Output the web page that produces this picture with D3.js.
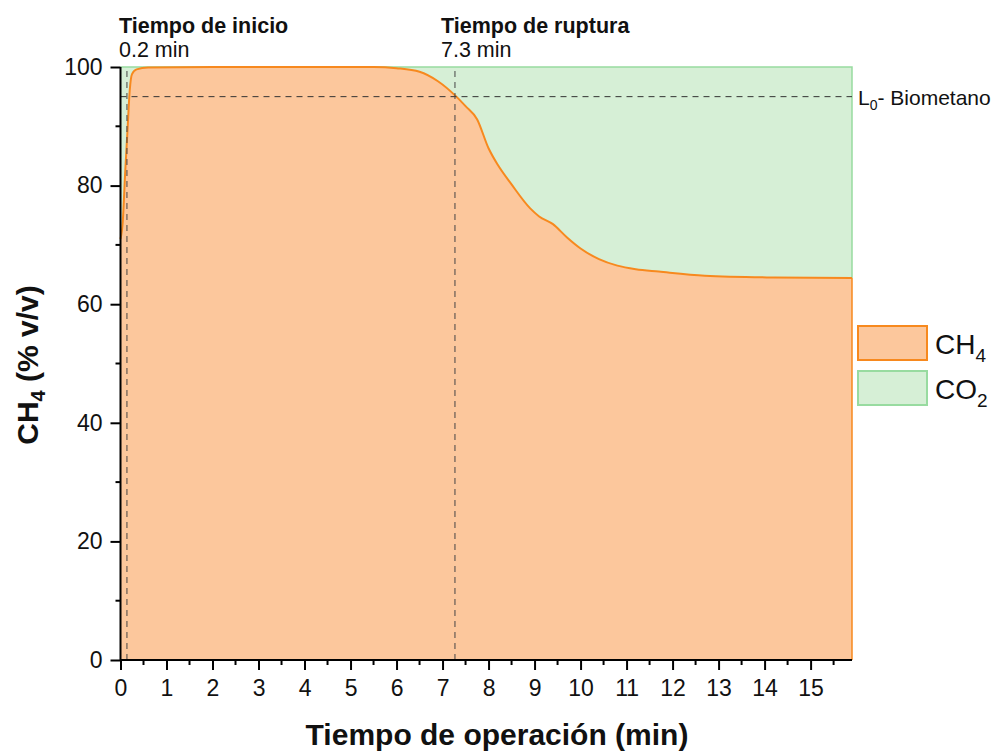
<!DOCTYPE html>
<html>
<head>
<meta charset="utf-8">
<script src="https://cdn.jsdelivr.net/npm/d3@7/dist/d3.min.js"></script>
<style>
  html, body { margin: 0; padding: 0; background: #ffffff; }
  svg { display: block; font-family: "Liberation Sans", Arial, sans-serif; }
</style>
</head>
<body>
<svg id="chart" width="1003" height="754"></svg>
<script>
// ---- Data ----
const timeMin = [0, 0.05, 0.1, 0.15, 0.2, 0.25, 0.35, 0.6, 2, 4, 5.5, 6, 6.5, 6.9, 7.3, 7.5, 7.75, 8.0, 8.2, 8.5, 8.9, 9.1, 9.4, 9.7, 10.0, 10.4, 10.8, 11.2, 11.7, 12.7, 14.2, 15.9];
const ch4Pct  = [71, 74, 82, 89, 96, 98.8, 99.6, 99.9, 100, 100, 100, 99.8, 99.2, 97.6, 95, 93.4, 91.2, 86.3, 83.5, 80.2, 76.2, 74.8, 73.5, 71.3, 69.4, 67.6, 66.5, 65.9, 65.5, 64.8, 64.5, 64.4];
const xTicks = [0,1,2,3,4,5,6,7,8,9,10,11,12,13,14,15];
const yTicks = [0,20,40,60,80,100];
const limitL0 = 95;
const markerPos = [0.14, 7.27];
const markerTitles = ["Tiempo de inicio", "Tiempo de ruptura"];
const markerValues = ["0.2 min", "7.3 min"];
const legendLabels = [["CH", "4"], ["CO", "2"]];

const data = timeMin.map((t, i) => ({t, v: ch4Pct[i]}));

// ---- Layout ----
const svg = d3.select("#chart");
const x = d3.scaleLinear().domain([0, 15.9]).range([120.5, 852]);
const y = d3.scaleLinear().domain([0, 100]).range([660, 67]);

const orangeFill = "#fcc79c", orangeLine = "#f7891e";
const greenFill = "#d6efd6", greenLine = "#98dba0";
const txt = "#111";

// CO2 area (between curve and 100)
const greenArea = d3.area().x(d => x(d.t)).y0(y(100)).y1(d => y(d.v)).curve(d3.curveMonotoneX);
svg.append("path").datum(data).attr("d", greenArea).attr("fill", greenFill);
svg.append("path")
  .attr("d", `M${x(0)},${y(100)}H${x(15.9)}V${y(ch4Pct[ch4Pct.length-1])}`)
  .attr("fill", "none").attr("stroke", greenLine).attr("stroke-width", 1.5);

// CH4 area
const orangeArea = d3.area().x(d => x(d.t)).y0(y(0)).y1(d => y(d.v)).curve(d3.curveMonotoneX);
svg.append("path").datum(data).attr("d", orangeArea).attr("fill", orangeFill);
const line = d3.line().x(d => x(d.t)).y(d => y(d.v)).curve(d3.curveMonotoneX);
svg.append("path").datum(data).attr("d", line).attr("fill", "none")
  .attr("stroke", orangeLine).attr("stroke-width", 2);
svg.append("line")
  .attr("x1", x(15.9)).attr("x2", x(15.9))
  .attr("y1", y(ch4Pct[ch4Pct.length-1])).attr("y2", y(0))
  .attr("stroke", orangeLine).attr("stroke-width", 1.5);

// dashed lines
svg.append("line")
  .attr("x1", x(0)).attr("x2", x(15.9)).attr("y1", y(limitL0)).attr("y2", y(limitL0))
  .attr("stroke", "#333").attr("stroke-width", 1).attr("stroke-dasharray", "6,5");
markerPos.forEach(p => {
  svg.append("line")
    .attr("x1", x(p)).attr("x2", x(p)).attr("y1", y(0)).attr("y2", y(100))
    .attr("stroke", "#444").attr("stroke-width", 1).attr("stroke-dasharray", "6,5");
});

// ---- Axes ----
const minorX = d3.range(0, 16, 0.5).filter(v => v % 1 !== 0);
const minorY = d3.range(10, 100, 20);

const gx = svg.append("g").attr("transform", `translate(0,${y(0)})`);
gx.append("line").attr("x1", x(0)).attr("x2", x(15.9)).attr("stroke", "#000").attr("stroke-width", 2);
gx.call(d3.axisBottom(x).tickValues(xTicks).tickSize(10).tickPadding(10).tickFormat(d3.format("d")))
  .call(g => g.select(".domain").remove())
  .call(g => g.selectAll("line").attr("stroke-width", 2))
  .call(g => g.selectAll("text").attr("font-size", 23).attr("fill", txt)
    .attr("font-family", "'Liberation Sans', Arial, sans-serif"));
gx.selectAll(".minor").data(minorX).enter().append("line")
  .attr("x1", d => x(d)).attr("x2", d => x(d)).attr("y1", 0).attr("y2", 5)
  .attr("stroke", "#000").attr("stroke-width", 2);

const gy = svg.append("g").attr("transform", `translate(${x(0)},0)`);
gy.append("line").attr("y1", y(0) + 1).attr("y2", y(100)).attr("stroke", "#000").attr("stroke-width", 2);
gy.call(d3.axisLeft(y).tickValues(yTicks).tickSize(10).tickPadding(8))
  .call(g => g.select(".domain").remove())
  .call(g => g.selectAll("line").attr("stroke-width", 2))
  .call(g => g.selectAll("text").attr("font-size", 23).attr("fill", txt)
    .attr("font-family", "'Liberation Sans', Arial, sans-serif"));
gy.selectAll(".minor").data(minorY).enter().append("line")
  .attr("x1", 0).attr("x2", -5).attr("y1", d => y(d)).attr("y2", d => y(d))
  .attr("stroke", "#000").attr("stroke-width", 2);

// axis titles
svg.append("text").attr("x", 497).attr("y", 745).attr("text-anchor", "middle")
  .attr("font-size", 30).attr("font-weight", "bold").attr("fill", txt)
  .text("Tiempo de operación (min)");
const yt = svg.append("text").attr("transform", "translate(38,365) rotate(-90)")
  .attr("text-anchor", "middle").attr("font-size", 30).attr("font-weight", "bold").attr("fill", txt);
yt.append("tspan").text("CH");
yt.append("tspan").attr("font-size", 20).attr("dy", 7).text("4");
yt.append("tspan").attr("dy", -7).text(" (% v/v)");

// marker annotations
const annX = [119, 441];
markerTitles.forEach((t, i) => {
  svg.append("text").attr("x", annX[i]).attr("y", 33).attr("font-size", 21.5)
    .attr("font-weight", "bold").attr("fill", txt).text(t);
  svg.append("text").attr("x", annX[i]).attr("y", 57).attr("font-size", 21.5)
    .attr("fill", txt).text(markerValues[i]);
});

// L0 label
const l0 = svg.append("text").attr("x", 858).attr("y", y(limitL0) + 8)
  .attr("font-size", 21).attr("fill", txt);
l0.append("tspan").text("L");
l0.append("tspan").attr("font-size", 14).attr("dy", 5).text("0");
l0.append("tspan").attr("dy", -5).text("- Biometano");

// legend
const legFill = [orangeFill, greenFill], legStroke = [orangeLine, greenLine];
legendLabels.forEach((lab, i) => {
  const top = 326 + i * 45;
  svg.append("rect").attr("x", 858).attr("y", top).attr("width", 69).attr("height", 34)
    .attr("fill", legFill[i]).attr("stroke", legStroke[i]).attr("stroke-width", 2);
  const t = svg.append("text").attr("x", 935).attr("y", top + 28).attr("font-size", 28).attr("fill", txt);
  t.append("tspan").text(lab[0]);
  t.append("tspan").attr("font-size", 19).attr("dy", 8).text(lab[1]);
});
</script>
</body>
</html>
